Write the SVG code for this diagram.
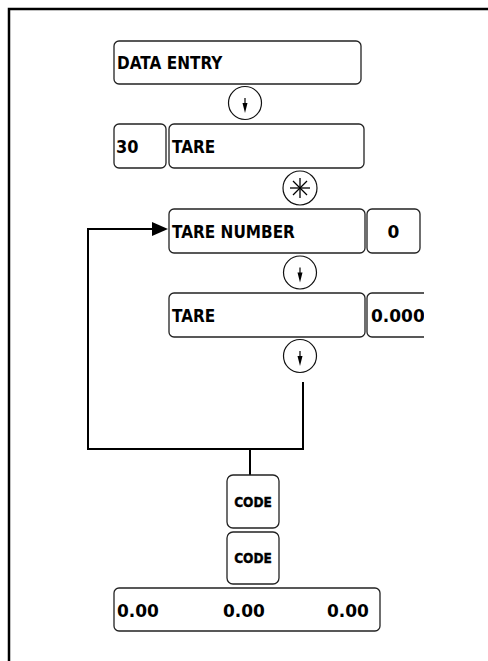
<svg xmlns="http://www.w3.org/2000/svg" width="488" height="661" viewBox="0 0 488 661">
  <style>
    .box { fill: #ffffff; stroke: #222222; stroke-width: 1.3; }
    .circ { fill: #ffffff; stroke: #111111; stroke-width: 1.2; }
    .t { font-family: "DejaVu Sans", "Liberation Sans", sans-serif; font-weight: bold; font-size: 17px; fill: #000000; }
    .d { font-family: "DejaVu Sans", "Liberation Sans", sans-serif; font-weight: bold; font-size: 17px; fill: #000000; }
    .code { font-family: "DejaVu Sans", "Liberation Sans", sans-serif; font-weight: bold; font-size: 14px; fill: #000000; stroke: #000000; stroke-width: 0.4; text-anchor: middle; }
    .wire { fill: none; stroke: #000000; stroke-width: 2; }
    .frame { fill: none; stroke: #000000; stroke-width: 2.5; }
    .ar { fill: #000000; }
    .ast { stroke: #000000; stroke-width: 1.3; }
  </style>
  <defs>
    <clipPath id="clipR"><rect x="0" y="0" width="424" height="661"/></clipPath>
    <g id="downArrow">
      <line x1="0" y1="-5" x2="0" y2="1" stroke="#000" stroke-width="1.2"/>
      <polygon points="-2.5,0 2.5,0 0,10" class="ar"/>
    </g>
  </defs>
  <rect x="0" y="0" width="488" height="661" fill="#ffffff"/>
  <path class="frame" d="M9,661 V9 H488"/>

  <g id="connectors">
    <path class="wire" d="M88,450 V229 H154"/>
    <polygon class="ar" points="152,222 168,229 152,236"/>
    <path class="wire" d="M303,382 V449 H88"/>
    <path class="wire" d="M250,449 V475"/>
  </g>

  <g id="data-entry">
    <rect class="box" x="114" y="41" width="247" height="43" rx="5"/>
    <text class="t" transform="translate(117,69) scale(0.9,1)">DATA ENTRY</text>
  </g>
  <g id="arrow1">
    <circle class="circ" cx="245" cy="103" r="16.5"/>
    <use href="#downArrow" x="245" y="103"/>
  </g>
  <g id="n30">
    <rect class="box" x="114" y="124" width="52" height="44" rx="5"/>
    <text class="d" transform="translate(116,152.5) scale(0.95,1)">30</text>
  </g>
  <g id="tare1">
    <rect class="box" x="169" y="124" width="195" height="44" rx="5"/>
    <text class="t" transform="translate(172,152.5) scale(0.9,1)">TARE</text>
  </g>
  <g id="star">
    <circle class="circ" cx="300" cy="188" r="17"/>
    <line class="ast" x1="300" y1="178" x2="300" y2="198"/>
    <line class="ast" x1="290" y1="188" x2="310" y2="188"/>
    <line class="ast" x1="293" y1="181" x2="307" y2="195"/>
    <line class="ast" x1="307" y1="181" x2="293" y2="195"/>
  </g>
  <g id="tare-number">
    <rect class="box" x="169" y="209" width="196" height="44" rx="5"/>
    <text class="t" transform="translate(172,237.5) scale(0.9,1)">TARE NUMBER</text>
  </g>
  <g id="tare-number-value">
    <rect class="box" x="367" y="209" width="53" height="44" rx="5"/>
    <text class="d" x="393.5" y="237.5" text-anchor="middle">0</text>
  </g>
  <g id="arrow2">
    <circle class="circ" cx="300" cy="272.5" r="16.5"/>
    <use href="#downArrow" x="300" y="272.5"/>
  </g>
  <g id="tare2">
    <rect class="box" x="169" y="293" width="196" height="44" rx="5"/>
    <text class="t" transform="translate(172,321.5) scale(0.9,1)">TARE</text>
  </g>
  <g id="tare-value" clip-path="url(#clipR)">
    <rect class="box" x="367" y="293" width="80" height="44" rx="5"/>
    <text class="d" x="371" y="321.5">0.000</text>
  </g>
  <g id="arrow3">
    <circle class="circ" cx="300" cy="356" r="16.5"/>
    <use href="#downArrow" x="300" y="356"/>
  </g>
  <g id="code1">
    <rect class="box" x="227" y="475" width="52" height="53" rx="6"/>
    <text class="code" transform="translate(253,506.5) scale(0.87,1)">CODE</text>
  </g>
  <g id="code2">
    <rect class="box" x="227" y="532" width="52" height="52" rx="6"/>
    <text class="code" transform="translate(253,563) scale(0.87,1)">CODE</text>
  </g>
  <g id="totals">
    <rect class="box" x="114" y="588" width="266" height="43" rx="5"/>
    <text class="d" x="117" y="616.5">0.00</text>
    <text class="d" x="223" y="616.5">0.00</text>
    <text class="d" x="327" y="616.5">0.00</text>
  </g>
</svg>
